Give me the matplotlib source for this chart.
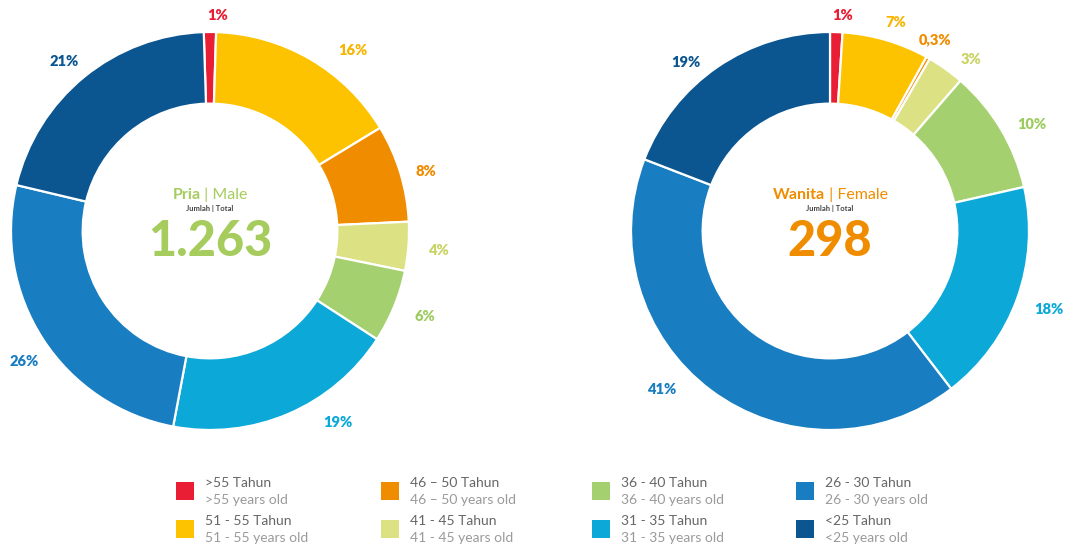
import numpy as np
import matplotlib.pyplot as plt
from matplotlib.patches import Rectangle
from matplotlib.transforms import offset_copy

plt.rcParams['font.family'] = ['Lato', 'DejaVu Sans']

# age groups, clockwise from the top of each donut
groups_id = ['>55 Tahun', '51 - 55 Tahun', '46 – 50 Tahun', '41 - 45 Tahun',
             '36 - 40 Tahun', '31 - 35 Tahun', '26 - 30 Tahun', '<25 Tahun']
groups_en = ['>55 years old', '51 - 55 years old', '46 – 50 years old', '41 - 45 years old',
             '36 - 40 years old', '31 - 35 years old', '26 - 30 years old', '<25 years old']

male_pct = [1, 16, 8, 4, 6, 19, 26, 21]
male_labels = ['1%', '16%', '8%', '4%', '6%', '19%', '26%', '21%']
female_pct = [1, 7, 0.3, 3, 10, 18, 41, 19]
female_labels = ['1%', '7%', '0,3%', '3%', '10%', '18%', '41%', '19%']

male_total = '1.263'
female_total = '298'

colors = ['#E91D33', '#FDC300', '#F08C00', '#DCE283', '#A5D06F', '#0BA8D8', '#187DC1', '#0B5590']
label_colors = ['#E91D33', '#F7B500', '#F08C00', '#C9D465', '#9DCB5F', '#0BA8D8', '#187DC1', '#0B5590']

# label placement tweaks (degrees of turn from the wedge middle, distance from centre)
male_shift = [2, 8, 1.5, 0.5, -0.5, -10.5, -2, -1.5]
male_dist = [1.085, 1.155, 1.125, 1.15, 1.16, 1.155, 1.14, 1.125]
female_shift = [1.5, 1.2, -0.7, 3.8, 3, -0.2, 10, -6]
female_dist = [1.085, 1.10, 1.095, 1.115, 1.145, 1.17, 1.16, 1.115]

W, H = 1067, 549
fig = plt.figure(figsize=(W / 100, H / 100), dpi=100)
fig.patch.set_facecolor('white')

R = 199   # outer radius in pixels
L = 1.3   # axes limit in pie units


def donut(cx, cy, values, labels, shifts, dists, start, title_a, title_b, title_color, total):
    ax = fig.add_axes([(cx - R * L) / W, (H - cy - R * L) / H, 2 * R * L / W, 2 * R * L / H])
    wedges, _ = ax.pie(values, colors=colors, startangle=start,
                       counterclock=False, radius=1,
                       wedgeprops=dict(width=0.36, edgecolor='white', linewidth=1.6))
    # pie() resets the limits, so set them afterwards
    ax.set_xlim(-L, L)
    ax.set_ylim(-L, L)
    ax.set_aspect('equal')
    ax.axis('off')
    for w, lab, c, s, d in zip(wedges, labels, label_colors, shifts, dists):
        ang = np.deg2rad((w.theta1 + w.theta2) / 2 - s)
        ax.text(d * np.cos(ang), d * np.sin(ang), lab, color=c, fontsize=10.5,
                fontweight='heavy', ha='center', va='center')

    # title made of a bold and a regular part, centred together
    t1 = ax.text(0, 0.18, title_a, fontsize=11.5, fontweight='bold', color=title_color,
                 ha='left', va='center')
    t2 = ax.text(0, 0.18, ' | ' + title_b, fontsize=11.5, color=title_color,
                 ha='left', va='center')
    r = fig.canvas.get_renderer()
    w1 = t1.get_window_extent(r).width
    w2 = t2.get_window_extent(r).width
    t1.set_transform(offset_copy(ax.transData, fig=fig, x=-(w1 + w2) / 2, y=0, units='dots'))
    t2.set_transform(offset_copy(ax.transData, fig=fig, x=-(w1 + w2) / 2 + w1, y=0, units='dots'))

    ax.text(0, 0.115, 'Jumlah | Total', fontsize=5.5, fontweight='bold', color='#444444',
            ha='center', va='center')
    ax.text(0, -0.055, total, fontsize=35, fontweight='black', color=title_color,
            ha='center', va='center')


donut(210, 231, male_pct, male_labels, male_shift, male_dist, 91.8,
      'Pria', 'Male', '#A5CC5C', male_total)
donut(830, 231, female_pct, female_labels, female_shift, female_dist, 90,
      'Wanita', 'Female', '#F08C00', female_total)

# legend: two rows, four columns
lax = fig.add_axes([0, 0, 1, 1], zorder=-1)
lax.set_xlim(0, W)
lax.set_ylim(H, 0)
lax.axis('off')
col_x = [176, 381, 592, 796]
row_y = [491, 529]
for i, (gid, gen, c) in enumerate(zip(groups_id, groups_en, colors)):
    x = col_x[i // 2]
    y = row_y[i % 2]
    lax.add_patch(Rectangle((x, y - 9), 18, 18, facecolor=c, edgecolor='none'))
    lax.text(x + 29, y - 8, gid, fontsize=10, color='#666666', ha='left', va='center')
    lax.text(x + 29, y + 9, gen, fontsize=10, color='#9A9A9A', ha='left', va='center')

fig.savefig('out.png', dpi=100, facecolor='white')
